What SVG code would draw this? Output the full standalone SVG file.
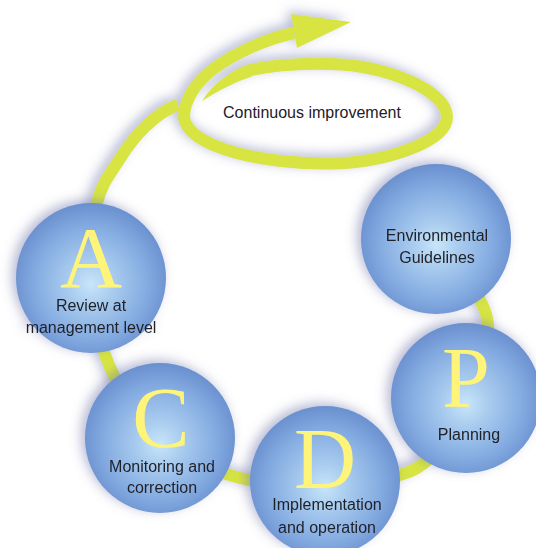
<svg xmlns="http://www.w3.org/2000/svg" width="536" height="548" viewBox="0 0 536 548">
<defs>
<radialGradient id="ball" cx="50%" cy="53%" r="52%" fx="50%" fy="54%">
<stop offset="0" stop-color="#c8e6fa"/>
<stop offset="0.3" stop-color="#a8cbee"/>
<stop offset="0.7" stop-color="#86ade2"/>
<stop offset="1" stop-color="#6b91d0"/>
</radialGradient>
<filter id="shadow" x="-20%" y="-20%" width="140%" height="140%">
<feGaussianBlur in="SourceAlpha" stdDeviation="6" result="b"/>
<feOffset in="b" dx="-4" dy="-3" result="o"/>
<feFlood flood-color="#6f74a8" flood-opacity="0.5"/>
<feComposite in2="o" operator="in" result="s"/>
<feMerge><feMergeNode in="s"/><feMergeNode in="SourceGraphic"/></feMerge>
</filter>
</defs>
<style>
.ring{fill:none;stroke:#d7e443;stroke-width:12;stroke-linecap:butt}
.fillg{fill:#d7e443}
.ball{fill:url(#ball)}
.letter{font-family:"Liberation Serif",serif;font-size:86px;fill:#fff47a;text-anchor:middle}
.lbl{font-family:"Liberation Sans",Arial,sans-serif;font-size:16px;fill:#1e2028;text-anchor:middle}
</style>
<rect width="536" height="548" fill="#ffffff"/>
<g id="connectors" filter="url(#shadow)">
<path class="ring" d="M435,239 C443.7,252.2 481.8,291.5 487,318 C492.2,344.5 477.7,373 466,398 C454.3,423 440.5,454.2 417,468 C393.5,481.8 354.5,479.3 325,481 C295.5,482.7 267.5,485.2 240,478 C212.5,470.8 181.8,456.8 160,438 C138.2,419.2 120.5,391.7 109,365 C97.5,338.3 93,305 91,278 C89,251 92.3,222.7 97,203 C101.7,183.3 111,172.7 119,160 C127,147.3 135.8,135.8 145,127 C154.2,118.2 166,108.5 178,105"/>
<path class="ring" stroke-width="13" d="M250,70 C275,65 300,63 330,64 C385,65 447,90 447,117 C447,142 385,163 330,163.5 C270,164 190,150 184,118 C184,98 198,80 216,67 C236,53 265,39 294,33"/>
<polygon class="fillg" points="291,14 351,22 297,48"/>
<path class="fillg" d="M251,63.5 C230,70 212,85 202,101 C220,90 235,82 252,76.5 Z"/>
</g>
<g id="continuous">
<text class="lbl" x="312" y="118" font-size="16.5">Continuous improvement</text>
</g>
<g id="env" filter="url(#shadow)">
<circle class="ball" cx="436" cy="239" r="75"/>
<text class="lbl" x="437" y="241">Environmental</text>
<text class="lbl" x="437" y="263">Guidelines</text>
</g>
<g id="plan" filter="url(#shadow)">
<circle class="ball" cx="466" cy="398" r="75"/>
<text class="letter" x="466" y="407">P</text>
<text class="lbl" x="469" y="440">Planning</text>
</g>
<g id="do" filter="url(#shadow)">
<circle class="ball" cx="325" cy="481" r="75"/>
<text class="letter" x="325" y="488">D</text>
<text class="lbl" x="327" y="510">Implementation</text>
<text class="lbl" x="327" y="533">and operation</text>
</g>
<g id="check" filter="url(#shadow)">
<circle class="ball" cx="160" cy="438" r="75"/>
<text class="letter" x="161" y="447">C</text>
<text class="lbl" x="162" y="472">Monitoring and</text>
<text class="lbl" x="162" y="493">correction</text>
</g>
<g id="act" filter="url(#shadow)">
<circle class="ball" cx="91" cy="278" r="75"/>
<text class="letter" x="91" y="287">A</text>
<text class="lbl" x="91" y="311">Review at</text>
<text class="lbl" x="91" y="333">management level</text>
</g>
</svg>
